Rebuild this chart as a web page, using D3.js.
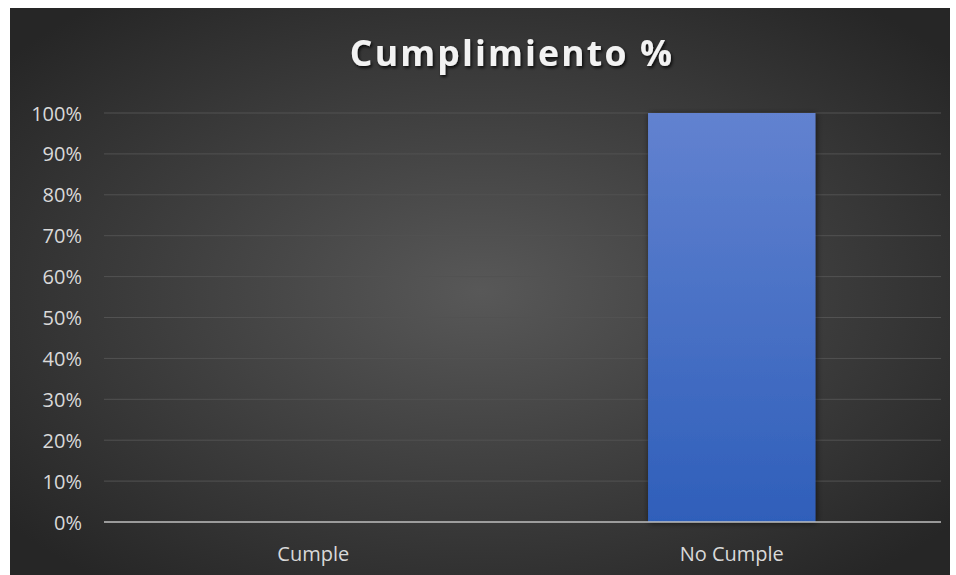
<!DOCTYPE html>
<html><head><meta charset="utf-8">
<script src="https://cdn.jsdelivr.net/npm/d3@7/dist/d3.min.js"></script>
<style>body{margin:0;background:#fff;}svg{display:block;}</style>
</head><body>
<svg id="c" width="956" height="575"></svg>
<script>
const categories = ["Cumple", "No Cumple"];
const values = [0, 1];
const yTicks = [0, 0.1, 0.2, 0.3, 0.4, 0.5, 0.6, 0.7, 0.8, 0.9, 1];
const chartTitle = "Cumplimiento %";

(function(){
const svg = d3.select("#c");
const defs = svg.append("defs");
const bg = defs.append("radialGradient").attr("id","bg").attr("cx","50%").attr("cy","50%").attr("r","65%");
bg.append("stop").attr("offset","0%").attr("stop-color","#585858");
bg.append("stop").attr("offset","100%").attr("stop-color","#262626");
const bar = defs.append("linearGradient").attr("id","bar").attr("x1",0).attr("y1",0).attr("x2",0).attr("y2",1);
bar.append("stop").attr("offset","0%").attr("stop-color","#6282d0");
bar.append("stop").attr("offset","100%").attr("stop-color","#2f5fba");
const sh = defs.append("filter").attr("id","sh").attr("x","-20%").attr("y","-20%").attr("width","140%").attr("height","140%");
sh.append("feDropShadow").attr("dx",1).attr("dy",1).attr("stdDeviation",3).attr("flood-color","#000").attr("flood-opacity",0.6);
const tsh = defs.append("filter").attr("id","tsh");
tsh.append("feDropShadow").attr("dx",1.5).attr("dy",2).attr("stdDeviation",1.5).attr("flood-color","#000").attr("flood-opacity",0.8);

svg.append("rect").attr("x",10).attr("y",8).attr("width",940).attr("height",567).attr("fill","url(#bg)");

const mLeft = 104, mRight = 941, mTop = 113, mBottom = 522;
const x = d3.scaleBand().domain(categories).range([mLeft, mRight]).padding(0);
const y = d3.scaleLinear().domain([0, 1]).range([mBottom, mTop]);

svg.append("g").selectAll("line").data(yTicks.filter(t => t > 0)).join("line")
  .attr("x1", mLeft).attr("x2", mRight)
  .attr("y1", d => y(d)).attr("y2", d => y(d))
  .attr("stroke", "#525252").attr("stroke-width", 1);

const bw = x.bandwidth() * 0.4;
svg.append("g").selectAll("rect").data(categories.map((c,i)=>({c, v: values[i]}))).join("rect")
  .attr("x", d => x(d.c) + x.bandwidth()/2 - bw/2)
  .attr("width", bw)
  .attr("y", d => y(d.v))
  .attr("height", d => y(0) - y(d.v))
  .attr("fill", "url(#bar)")
  .attr("filter", "url(#sh)");

svg.append("line").attr("x1", mLeft).attr("x2", mRight).attr("y1", y(0)).attr("y2", y(0))
  .attr("stroke", "#bfbfbf").attr("stroke-width", 1.5);

const yAxis = d3.axisLeft(y).tickValues(yTicks).tickFormat(d3.format(".0%")).tickSize(0).tickPadding(0);
const ya = svg.append("g").attr("transform", `translate(82,0)`).call(yAxis);
ya.select(".domain").remove();
ya.selectAll("text").attr("fill", "#d9d9d9").attr("font-family", "'Open Sans', sans-serif").attr("font-size", 20).attr("dy", "0.35em");

const xAxis = d3.axisBottom(x).tickSize(0).tickPadding(0);
const xa = svg.append("g").attr("transform", `translate(0,${mBottom + 32})`).call(xAxis);
xa.select(".domain").remove();
xa.selectAll("text").attr("fill", "#d9d9d9").attr("font-family", "'Open Sans', sans-serif").attr("font-size", 20).attr("dy", "0.35em");

svg.append("text").attr("x", 512).attr("y", 66).attr("text-anchor", "middle")
  .attr("fill", "#f2f2f2").attr("font-family", "'Open Sans', sans-serif").attr("font-weight", "bold")
  .attr("font-size", 35.5).attr("letter-spacing", 2.2).attr("filter", "url(#tsh)").text(chartTitle);
})();
</script>
</body></html>
